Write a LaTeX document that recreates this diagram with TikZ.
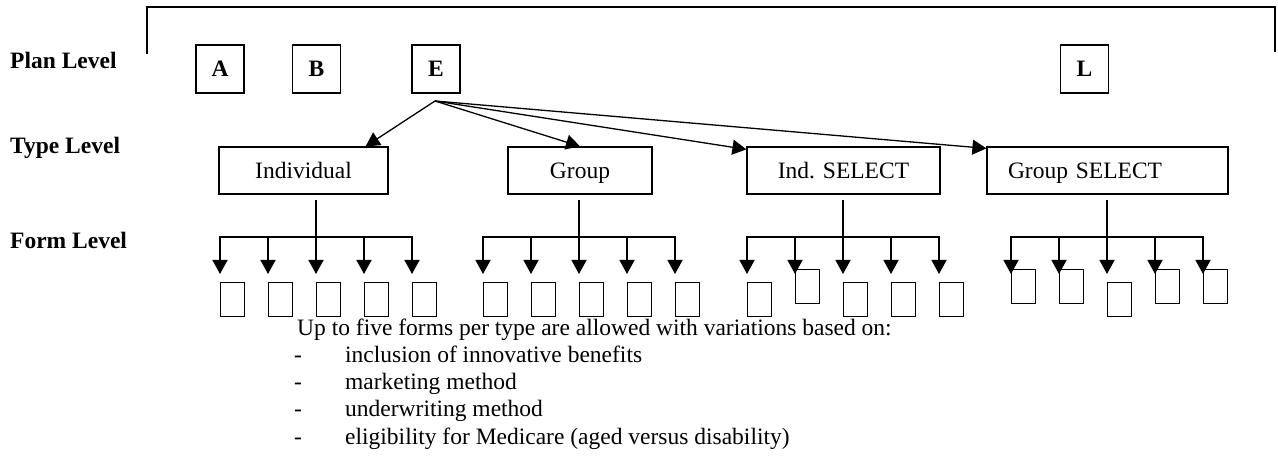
\documentclass[tikz,border=0pt]{standalone}
\usepackage{fontspec}
\setmainfont{Liberation Serif}
\usetikzlibrary{arrows.meta, positioning}

\begin{document}
\begin{tikzpicture}[x=1pt, y=-1pt,
  lvl/.style={anchor=base west, inner sep=0pt, font=\fontsize{23.5}{27}\selectfont\bfseries},
  txt/.style={anchor=base west, inner sep=0pt, font=\fontsize{23.5}{27}\selectfont},
  plan/.style={rectangle, draw, line width=1.2pt, minimum width=48pt, minimum height=48pt,
               inner sep=0pt, text height=16pt, text depth=0pt,
               font=\fontsize{23.5}{27}\selectfont\bfseries},
  typebox/.style={rectangle, draw, line width=1.2pt, minimum height=47pt,
                  inner sep=0pt, text height=16pt, text depth=0pt,
                  font=\fontsize{23.5}{27}\selectfont},
  formbox/.style={rectangle, draw, line width=1.2pt, minimum width=24pt, minimum height=34pt,
                  inner sep=0pt, anchor=north west},
  ln/.style={line width=1.3pt},
  arr/.style={-{Triangle[length=14pt, width=15pt]}, line width=1.3pt}
]
  \useasboundingbox (0,0) rectangle (1278,462);

  % Bracket over the plans
  \coordinate (brk-bl) at (147,54);
  \coordinate (brk-tl) at (147,7);
  \coordinate (brk-tr) at (1275,7);
  \coordinate (brk-br) at (1275,52);
  \draw[ln] (brk-bl) -- (brk-tl) -- (brk-tr) -- (brk-br);

  % Level labels
  \node[lvl] (planlvl) at (10,69)  {Plan Level};
  \node[lvl] (typelvl) at (10,154) {Type Level};
  \node[lvl] (formlvl) at (10,249) {Form Level};

  % Plans
  \node[plan] (A) at (220,69)    {A};
  \node[plan] (B) at (316.5,69)  {B};
  \node[plan] (E) at (436,69)    {E};
  \node[plan] (L) at (1084.5,69) {L};

  % Types
  \node[typebox, minimum width=169pt] (ind)  at (303.5,170.5) {Individual};
  \node[typebox, minimum width=144pt] (grp)  at (580,170.5)   {Group};
  \node[typebox, minimum width=193pt] (isel) at (843.5,170.5) {Ind. SELECT};
  \node[typebox, inner xsep=21pt, text width=199pt, align=left] (gsel) at (1107.5,170.5) {Group SELECT};

  \coordinate (E-out) at (435,101);
  \draw[arr] (E-out) -- ([xshift=-23pt]ind.north east);
  \draw[arr] (E-out) -- (grp.north);
  \draw[arr] (E-out) -- ([yshift=-3pt]isel.north west);
  \draw[arr] (E-out) -- ([yshift=-2pt]gsel.north west);

  % Forms
  \foreach \t/\vx/\tops in {ind/316/{282,282,282,282,282},
                            grp/579/{282,282,282,282,282},
                            isel/843/{282,269,282,282,282},
                            gsel/1107/{269,269,282,269,269}} {
    \coordinate (\t-fork) at (\vx,237);
    \draw[ln, shorten <=5pt] (\t-fork |- \t.south) -- (\t-fork);
    \foreach \top [count=\i] in \tops {
      \coordinate (\t-b\i) at (\vx-96+48*\i-48,237);
      \coordinate (\t-tip\i) at (\vx-96+48*\i-48,274);
      \node[formbox] (\t-f\i) at (\vx-96+48*\i-48,\top) {};
      \draw[arr] (\t-b\i) -- (\t-tip\i);
    }
    \draw[ln, line cap=rect] (\t-b1) -- (\t-b5);
  }

  % Note
  \node[txt] (note) at (297,336) {Up to five forms per type are allowed with variations based on:};
  \foreach \item [count=\i] in {inclusion of innovative benefits, marketing method,
                                underwriting method, eligibility for Medicare (aged versus disability)} {
    \node[txt] (dash\i) at (294,336+27*\i) {-};
    \node[txt] (item\i) at (345,336+27*\i) {\item};
  }
\end{tikzpicture}
\end{document}
